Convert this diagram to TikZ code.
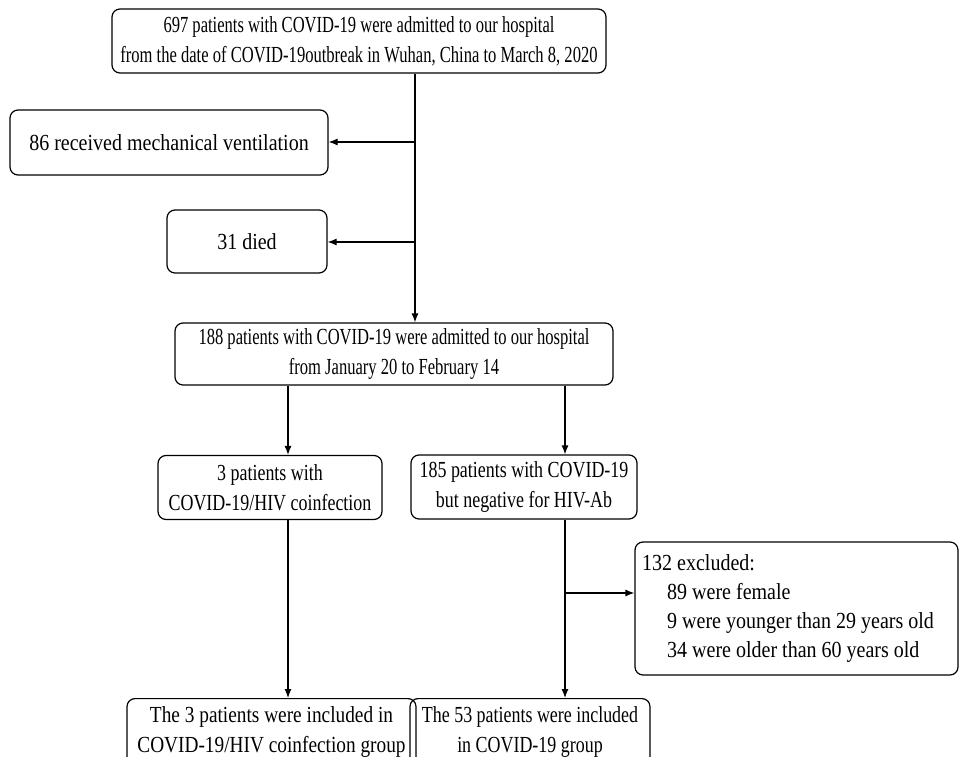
\documentclass[tikz,border=0pt]{standalone}
\usepackage{fontspec}
\setmainfont{Liberation Serif}
\newfontfamily\fsA[FakeStretch=0.72]{Liberation Serif}
\newfontfamily\fsB[FakeStretch=0.78]{Liberation Serif}
\newfontfamily\fsC[FakeStretch=0.87]{Liberation Serif}
\newfontfamily\fsD[FakeStretch=0.84]{Liberation Serif}
\usetikzlibrary{arrows.meta}
\begin{document}
\begin{tikzpicture}[x=1pt,y=-1pt,
  box/.style={draw=black,line width=1.2pt,rounded corners=8pt,align=center,
    inner sep=0pt},
  fA/.style={font=\fsA\fontsize{23}{30}\selectfont},
  fB/.style={font=\fsB\fontsize{23}{30}\selectfont},
  fC/.style={font=\fsC\fontsize{23}{30}\selectfont},
  fD/.style={font=\fsD\fontsize{23}{30}\selectfont},
  arr/.style={line width=1.2pt,-{Latex[length=9pt,width=7pt]}},
  ln/.style={line width=1.2pt}]
\useasboundingbox (0,0) rectangle (959,757);
\clip (0,0) rectangle (959,757);
\node[box,fA,minimum width=494pt,minimum height=64pt] (top) at (359,41)
  {697 patients with COVID-19 were admitted to our hospital\\from the date of COVID-19outbreak in Wuhan, China to March 8, 2020};
\node[box,fC,minimum width=318pt,minimum height=65pt] (mv) at (169,142.5)
  {86 received mechanical ventilation};
\node[box,fC,minimum width=160pt,minimum height=63pt] (died) at (247,241.5)
  {31 died};
\node[box,fA,minimum width=438pt,minimum height=62pt] (b188) at (394,354)
  {188 patients with COVID-19 were admitted to our hospital\\from January 20 to February 14};
\node[box,fB,minimum width=224pt,minimum height=64pt] (hiv) at (270,487.5)
  {3 patients with\\COVID-19/HIV coinfection};
\node[box,fB,minimum width=226pt,minimum height=64pt] (neg) at (524,487)
  {185 patients with COVID-19\\but negative for HIV-Ab};
\node[box,minimum width=323pt,minimum height=133pt] (excl) at (796.5,608.5) {};
\node[anchor=north west,inner sep=0pt,align=left,font=\fsC\fontsize{23}{29}\selectfont] (excltext) at (642,554)
  {132 excluded:\\\hspace*{25pt}89 were female\\\hspace*{25pt}9 were younger than 29 years old\\\hspace*{25pt}34 were older than 60 years old};
\node[box,fD,anchor=north,minimum width=289pt,inner ysep=8pt] (inc3) at (271.5,698)
  {The 3 patients were included in\\COVID-19/HIV coinfection group};
\node[box,fB,anchor=north,minimum width=240pt,inner ysep=8pt] (inc53) at (530,698)
  {The 53 patients were included\\in COVID-19 group};
% connectors
\coordinate (t0) at (top.south -| 415,0);
\draw[arr] (t0) -- (t0 |- b188.north);
\coordinate (j1) at (415,142);
\coordinate (j2) at (415,242);
\draw[arr] (j1) -- (j1 -| mv.east);
\draw[arr] (j2) -- (j2 -| died.east);
\coordinate (b1) at (b188.south -| 288,0);
\coordinate (b2) at (b188.south -| 565,0);
\draw[arr] (b1) -- (b1 |- hiv.north);
\draw[arr] (b2) -- (b2 |- neg.north);
\coordinate (h1) at (hiv.south -| 288,0);
\draw[arr] (h1) -- (h1 |- inc3.north);
\coordinate (n1) at (neg.south -| 565,0);
\draw[arr] (n1) -- (n1 |- inc53.north);
\coordinate (j3) at (565,593);
\draw[arr] (j3) -- (j3 -| excl.west);
\end{tikzpicture}
\end{document}
